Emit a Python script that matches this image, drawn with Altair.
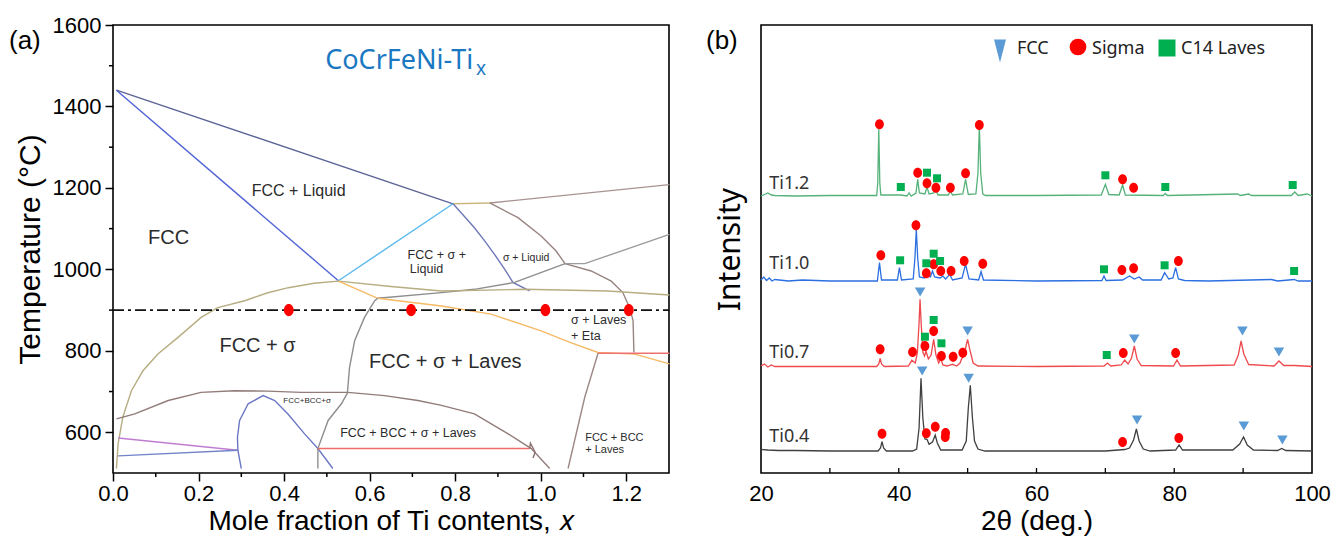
import altair as alt
import pandas as pd

# ======================= Panel (a): CoCrFeNi-Tix phase diagram =======================
# phase boundaries as (x, T[°C]) points
liquidus      = [(0.008, 1440), (0.795, 1161)]
solidus       = [(0.008, 1440), (0.527, 972)]
fcc_sig_liq   = [(0.527, 972), (0.795, 1161)]
tie_top       = [(0.795, 1161), (0.881, 1163)]
liq_top       = [(0.881, 1163), (1.301, 1208)]
sig_liq_left  = [(0.795, 1161), (0.814, 1139), (0.845, 1102), (0.869, 1070), (0.892, 1037),
                 (0.916, 1000), (0.935, 968), (0.974, 947)]
sig_liq_right = [(0.881, 1163), (0.947, 1127), (1.001, 1082), (1.036, 1045), (1.057, 1014),
                 (1.118, 996), (1.165, 971), (1.192, 943), (1.208, 906), (1.216, 874), (1.218, 796)]
gray_right    = [(1.057, 1014), (1.103, 1014), (1.301, 1086)]
gray_mid      = [(0.619, 929), (0.768, 943), (0.845, 951), (0.939, 968), (1.057, 1014)]
fcc_solvus    = [(0.008, 511), (0.012, 572), (0.023, 637), (0.043, 702), (0.070, 751), (0.105, 792),
                 (0.152, 833), (0.206, 882), (0.245, 906), (0.308, 923), (0.36, 942), (0.41, 955),
                 (0.47, 966), (0.527, 971), (0.65, 958), (0.768, 947), (0.962, 951), (1.157, 947),
                 (1.301, 937)]
orange_line   = [(0.527, 971), (0.619, 929), (0.768, 910), (0.884, 890), (1.001, 849), (1.07, 820),
                 (1.134, 796), (1.22, 792), (1.301, 768)]
red_right     = [(1.134, 794), (1.301, 794)]
fbl_left      = [(1.134, 794), (1.103, 686), (1.064, 511)]
dome          = [(0.008, 633), (0.051, 645), (0.129, 678), (0.206, 698), (0.284, 702), (0.362, 701),
                 (0.44, 698), (0.549, 698), (0.635, 690), (0.713, 678), (0.768, 666), (0.845, 645),
                 (0.924, 596), (0.978, 560), (1.021, 511)]
purple_low    = [(0.012, 586), (0.292, 556)]
blue_low      = [(0.012, 542), (0.292, 556)]
bcc_dome      = [(0.300, 511), (0.292, 556), (0.291, 588), (0.296, 629), (0.316, 670), (0.351, 690),
                 (0.378, 678), (0.409, 645), (0.448, 596), (0.479, 560), (0.514, 511)]
laves_bound   = [(0.479, 511), (0.479, 560), (0.503, 629), (0.534, 670), (0.548, 696), (0.553, 759),
                 (0.565, 825), (0.588, 882), (0.612, 923), (0.619, 929)]
red_low       = [(0.479, 560), (0.974, 560)]
zigzag        = [(0.974, 560), (0.976, 573), (0.987, 551), (0.982, 537)]

line_colors = {
    "liquidus": "#5d6497", "solidus": "#5063d6", "fcc_sig_liq": "#58b9f0", "tie_top": "#cdb77c",
    "liq_top": "#a89392", "sig_liq_left": "#6e78b8", "sig_liq_right": "#988480",
    "gray_right": "#9c9c9c", "gray_mid": "#8d8d8d", "fcc_solvus": "#b7ad82",
    "orange_line": "#f6b964", "red_right": "#ef7272", "fbl_left": "#9c8884", "dome": "#917c7a",
    "purple_low": "#c07dd0", "blue_low": "#7383c8", "bcc_dome": "#6b77c4",
    "laves_bound": "#8e8e8e", "red_low": "#ef6c6c", "zigzag": "#8c7070",
}
phase_lines = {
    "liquidus": liquidus, "solidus": solidus, "fcc_sig_liq": fcc_sig_liq, "tie_top": tie_top,
    "liq_top": liq_top, "sig_liq_left": sig_liq_left, "sig_liq_right": sig_liq_right,
    "gray_right": gray_right, "gray_mid": gray_mid, "fcc_solvus": fcc_solvus,
    "orange_line": orange_line, "red_right": red_right, "fbl_left": fbl_left, "dome": dome,
    "purple_low": purple_low, "blue_low": blue_low, "bcc_dome": bcc_dome,
    "laves_bound": laves_bound, "red_low": red_low, "zigzag": zigzag,
}

ref_T = 900
ref_x = [0.0, 1.3]
sample_x = [0.411, 0.697, 1.011, 1.206]

x_ticks_a = [0.0, 0.2, 0.4, 0.6, 0.8, 1.0, 1.2]
x_minor_a = [0.1, 0.3, 0.5, 0.7, 0.9, 1.1]
y_ticks_a = [600, 800, 1000, 1200, 1400, 1600]
y_minor_a = [700, 900, 1100, 1300, 1500]

# region labels (text, x, T)
labels_big   = [("FCC + σ", 0.338, 812), ("FCC + σ + Laves", 0.777, 772), ("FCC", 0.130, 1078)]
labels_liq   = [("FCC + Liquid", 0.434, 1192)]
labels_mid   = [("FCC + σ +", 0.757, 1036), ("Liquid", 0.733, 1000),
                ("FCC + BCC + σ + Laves", 0.69, 597)]
labels_small = [("σ + Liquid", 0.966, 1029)]
labels_left  = [("σ + Laves", 1.071, 875), ("+ Eta", 1.071, 837)]
labels_left2 = [("FCC + BCC", 1.104, 587), ("+ Laves", 1.104, 556)]
labels_tiny  = [("FCC+BCC+σ", 0.454, 676)]
alloy_title  = [("CoCrFeNi-Ti", 0.842, 1491)]
alloy_sub    = [("x", 0.849, 1478)]

# ======================= Panel (b): XRD patterns =======================
xrd_ti04 = [(20.0, 23.5), (21.0, 23), (22.5, 22.5), (25, 22.5), (30, 22), (35, 22), (37.0, 22),
            (37.35, 25), (37.57, 31.3), (37.8, 25), (38.2, 22), (42.0, 22), (42.6, 24), (42.95, 45),
            (43.23, 94.7), (43.5, 55), (43.8, 34), (44.1, 33.7), (44.4, 28.7), (44.9, 31), (45.3, 38),
            (45.6, 30), (46.1, 23), (49.2, 23), (49.8, 32), (50.1, 65), (50.39, 87.7), (50.7, 55),
            (51.0, 32), (51.5, 24), (52.5, 22), (60, 22), (70, 22), (72.8, 23.5), (73.5, 25),
            (74.1, 33), (74.5, 44), (74.9, 32), (75.5, 24), (76.5, 22), (80.2, 23), (80.7, 28),
            (81.2, 23), (88.5, 23), (89.5, 29), (90.06, 36), (90.6, 28), (91.5, 23), (95.0, 22.5),
            (95.6, 24.5), (96.2, 22.5), (100, 22)]
xrd_ti07 = [(20, 107), (20.5, 109), (21, 106), (21.5, 108), (22, 106.5), (25, 106.5), (30, 106.5),
            (36.8, 106.5), (37.1, 109), (37.3, 114.7), (37.5, 109), (37.9, 106.5), (41.4, 107),
            (41.9, 112.7), (42.4, 110), (42.7, 120), (42.95, 150), (43.09, 173.7), (43.25, 150),
            (43.5, 121), (43.75, 117), (43.96, 122), (44.3, 114), (44.7, 118), (45.07, 133.7),
            (45.4, 118), (45.8, 110), (46.1, 114.7), (46.4, 108), (47.0, 107), (47.8, 108.7),
            (48.4, 107), (48.9, 110), (49.1, 113.7), (49.5, 118), (49.8, 128), (50.0, 133.7),
            (50.3, 124), (50.8, 110), (51.5, 107), (60, 106.5), (69.8, 107), (70.3, 110), (70.8, 107),
            (72.3, 108), (72.8, 113), (73.3, 109), (73.8, 115), (74.2, 127), (74.6, 114), (75.2, 107.5),
            (79.9, 107), (80.4, 113), (80.9, 107), (88.7, 108), (89.3, 118), (89.7, 132), (90.1, 119),
            (90.8, 108.5), (94.5, 107), (95.2, 112), (95.9, 107.5), (97.5, 107.5), (100, 106.5)]
xrd_ti10 = [(20, 193), (20.4, 196), (20.8, 192.5), (21.2, 195), (21.6, 192), (22, 193.5), (24, 192),
            (26, 193), (30, 192), (36.9, 192), (37.2, 210.3), (37.5, 193), (39.8, 193), (40.1, 205.3),
            (40.4, 193), (42.1, 194), (42.35, 215), (42.55, 243.7), (42.75, 215), (43.0, 196),
            (43.7, 195), (44.2, 197), (44.6, 196), (44.9, 202), (45.2, 196), (46.0, 195), (46.4, 197),
            (46.8, 194), (47.4, 198.7), (47.8, 193), (49.2, 195), (49.7, 208.7), (50.2, 194),
            (51.6, 193), (51.95, 201.3), (52.3, 193), (60, 192), (69.5, 192.5), (69.8, 197),
            (70.1, 192.5), (72.5, 193), (73.5, 197), (74.2, 194), (74.9, 196), (75.4, 193), (78.1, 193),
            (78.6, 200.3), (79.2, 194), (79.8, 195), (80.2, 205.3), (80.6, 194), (81.5, 192.5),
            (85, 192), (94.1, 193.5), (95, 192), (97.4, 193.5), (98, 192), (100, 192)]
xrd_ti12 = [(20, 277), (20.5, 278.5), (21.0, 280), (21.5, 278), (22, 277.5), (25, 277), (30, 277.5),
            (36.8, 277.5), (36.95, 290), (37.1, 343.7), (37.25, 290), (37.4, 278), (40.3, 278),
            (41.2, 277), (41.5, 280), (41.8, 277), (42.5, 280), (42.75, 293.7), (43.0, 280), (43.8, 279),
            (44.1, 286), (44.4, 279), (45.1, 280), (45.4, 283), (45.7, 278), (47.2, 278), (47.5, 282),
            (47.8, 278), (49.3, 279), (49.7, 293.7), (50.1, 278.5), (51.2, 279), (51.5, 300),
            (51.7, 347), (51.9, 300), (52.2, 279), (52.6, 277.5), (60, 277.5), (69.4, 278), (70.0, 288.7),
            (70.5, 278.5), (72.0, 278), (72.5, 288), (72.9, 278), (78.4, 277.5), (78.7, 279.5),
            (79.0, 277.5), (89.2, 279), (89.6, 277.5), (90.8, 279), (91.2, 277.5), (97.0, 277.5),
            (97.5, 281), (98.0, 277.5), (99.3, 279), (100, 277)]
samples = ["Ti1.2", "Ti1.0", "Ti0.7", "Ti0.4"]
sample_colors = ["#55b27a", "#2b6fe0", "#ee4a4e", "#404040"]
sample_label_I = [289, 209, 120, 36]
sample_label_tt = 21.2

fcc_pts = [(43.4, 102), (50.15, 94.7), (74.6, 53), (90.1, 47), (95.7, 33),
           (43.1, 181), (50.0, 142), (74.2, 134), (89.9, 142), (95.2, 121)]
sigma_pts = [(37.57, 39.3), (44.0, 39.7), (45.3, 46.3), (46.75, 36), (46.8, 40), (72.5, 31), (80.66, 35),
             (37.3, 123.7), (42.0, 121), (43.8, 127), (45.07, 142), (46.2, 117), (47.9, 116.3),
             (49.3, 120.3), (72.6, 120), (80.2, 120),
             (37.4, 217.7), (42.5, 247.7), (44.0, 199.7), (45.07, 208.7), (46.1, 202), (47.6, 202),
             (49.5, 212), (52.2, 209.3), (72.4, 203), (74.1, 204.7), (80.6, 212),
             (37.2, 348.7), (42.75, 300.3), (44.1, 289.7), (45.4, 285.3), (47.5, 285.3), (49.7, 299.7),
             (51.7, 348), (72.5, 293.7), (74.1, 285.3)]
laves_pts = [(43.8, 136.3), (45.07, 153), (46.2, 129.7), (70.2, 118),
             (40.2, 212.7), (44.0, 209.7), (45.07, 219.3), (46.0, 212), (69.8, 203.7), (78.6, 207.7),
             (97.4, 202),
             (40.3, 286), (44.1, 300.3), (45.56, 294.7), (70.0, 297.7), (78.7, 286), (97.2, 288)]
phase_names = ["FCC", "Sigma", "C14 Laves"]
x_ticks_b = [20, 40, 60, 80, 100]
x_inner_b = [30, 40, 50, 60, 70, 80, 90]

# ======================= styling =======================
ARIAL = "Liberation Sans, Arial, sans-serif"
NOTO = "Noto Sans, sans-serif"
W_A, W_B, H = 556, 551, 448
TRI_DOWN = "M-1,-0.87L1,-0.87L0,0.87Z"
TRI_LEG = "M-0.52,-1L0.52,-1L0,1Z"
ELLIPSE = "M0,-1A0.88,1 0 1 1 0,1A0.88,1 0 1 1 0,-1Z"
ELLIPSE_A = "M0,-1A0.8,1 0 1 1 0,1A0.8,1 0 1 1 0,-1Z"

ax_xa = alt.Axis(values=x_ticks_a, format=".1f", title="Mole fraction of Ti contents, 𝑥",
                 titleFont=ARIAL, titleFontSize=28, titleFontWeight="normal", titleColor="black",
                 labelFont=ARIAL, labelFontSize=22, labelColor="black", labelPadding=2,
                 labelFlush=False, labelOverlap=False, tickSize=8, tickWidth=1.5, tickColor="black",
                 titlePadding=3, domain=False, grid=False)
ax_ya = alt.Axis(values=y_ticks_a, format="d", title="Temperature (°C)",
                 titleFont=ARIAL, titleFontSize=30, titleFontWeight="normal", titleColor="black",
                 labelFont=ARIAL, labelFontSize=22, labelColor="black", labelPadding=4,
                 labelFlush=False, labelOverlap=False, tickSize=8, tickWidth=1.5, tickColor="black",
                 titlePadding=7, domain=False, grid=False)
sx_a = alt.Scale(domain=[0, 1.3], nice=False, zero=False)
sy_a = alt.Scale(domain=[500, 1600], nice=False, zero=False)


def XA(f="x"):
    return alt.X(f"{f}:Q", scale=sx_a, axis=ax_xa)


def YA(f="T"):
    return alt.Y(f"{f}:Q", scale=sy_a, axis=ax_ya)


rows = []
for name, pts in phase_lines.items():
    for i, (x, T) in enumerate(pts):
        rows.append({"seg": name, "i": i, "x": x, "T": T})
df_lines = pd.DataFrame(rows)
names = list(phase_lines.keys())

lines_a = alt.Chart(df_lines).mark_line(strokeWidth=1.4).encode(
    x=XA(), y=YA(),
    color=alt.Color("seg:N", scale=alt.Scale(domain=names, range=[line_colors[n] for n in names]),
                    legend=None),
    order="i:Q")

df_ref = pd.DataFrame({"x": ref_x, "T": [ref_T] * len(ref_x)})
ref_line = alt.Chart(df_ref).mark_line(color="#111111", strokeWidth=1.6,
                                       strokeDash=[11, 4, 3, 4]).encode(x=XA(), y=YA())

df_dots = pd.DataFrame({"x": sample_x, "T": [ref_T] * len(sample_x)})
dots = alt.Chart(df_dots).mark_point(shape=ELLIPSE_A, filled=True, color="#ff0000", opacity=1,
                                     size=150, strokeWidth=0).encode(x=XA(), y=YA())


def text_layer(items, size, align="center", color="#2b2b2b", font=ARIAL, baseline="middle"):
    df = pd.DataFrame(items, columns=["text", "x", "T"])
    return alt.Chart(df).mark_text(fontSize=size, align=align, baseline=baseline, color=color,
                                   font=font).encode(x=XA(), y=YA(), text="text:N")


t_big = text_layer(labels_big, 20)
t_liq = text_layer(labels_liq, 16)
t_mid = text_layer(labels_mid, 12.5)
t_small = text_layer(labels_small, 10.5)
t_left = text_layer(labels_left, 12.5, align="left")
t_left2 = text_layer(labels_left2, 11, align="left")
t_tiny = text_layer(labels_tiny, 8)
t_title = text_layer(alloy_title, 27, align="right", color="#1a78c2", font=NOTO, baseline="alphabetic")
t_sub = text_layer(alloy_sub, 19, align="left", color="#1a78c2", font=NOTO, baseline="alphabetic")

df_xminor = pd.DataFrame({"x": x_minor_a})
minor_x = alt.Chart(df_xminor).mark_rule(color="black", strokeWidth=1.5).encode(
    x=XA(), y=alt.value(H), y2=alt.value(H + 4))
df_yminor = pd.DataFrame({"T": y_minor_a})
minor_y = alt.Chart(df_yminor).mark_rule(color="black", strokeWidth=1.5).encode(
    y=YA(), x=alt.value(0), x2=alt.value(-4))

lab_a = alt.Chart(pd.DataFrame({"t": ["(a)"]})).mark_text(
    fontSize=26, font=ARIAL, align="left", baseline="middle", color="black").encode(
    x=alt.value(-104), y=alt.value(16), text="t:N")

panel_a = alt.layer(lines_a, ref_line, dots, t_big, t_liq, t_mid, t_small, t_left, t_left2, t_tiny,
                    t_title, t_sub, minor_x, minor_y, lab_a).properties(width=W_A, height=H)

# ---------------- panel (b) ----------------
ax_xb = alt.Axis(values=x_ticks_b, format="d", title="2θ (deg.)",
                 titleFont=ARIAL, titleFontSize=28, titleFontWeight="normal", titleColor="black",
                 labelFont=ARIAL, labelFontSize=22, labelColor="black", labelPadding=2,
                 labelFlush=False, labelOverlap=False, tickSize=8, tickOpacity=0,
                 titlePadding=3, domain=False, grid=False)
ax_yb = alt.Axis(title="Intensity", labels=False, ticks=False, domain=False, grid=False,
                 titleFont=NOTO, titleFontSize=30, titleFontWeight="normal", titleColor="black",
                 titlePadding=16)
sx_b = alt.Scale(domain=[20, 100], nice=False, zero=False)
sy_b = alt.Scale(domain=[0, H], nice=False, zero=False)


def XB(f="tt"):
    return alt.X(f"{f}:Q", scale=sx_b, axis=ax_xb)


def YB(f="I"):
    return alt.Y(f"{f}:Q", scale=sy_b, axis=ax_yb)


rows = []
for s, pts in zip(samples, [xrd_ti12, xrd_ti10, xrd_ti07, xrd_ti04]):
    for i, (tt, I) in enumerate(pts):
        rows.append({"sample": s, "i": i, "tt": tt, "I": I})
df_xrd = pd.DataFrame(rows)

xrd_lines = alt.Chart(df_xrd).mark_line(strokeWidth=1.3).encode(
    x=XB(), y=YB(),
    stroke=alt.Stroke("sample:N", scale=alt.Scale(domain=samples, range=sample_colors), legend=None),
    order="i:Q")


def marker_layer(pts, shape, color, size):
    df = pd.DataFrame(pts, columns=["tt", "I"])
    return alt.Chart(df).mark_point(shape=shape, filled=True, color=color, opacity=1, size=size,
                                    strokeWidth=0).encode(x=XB(), y=YB())


m_fcc = marker_layer(fcc_pts, TRI_DOWN, "#5b9bd5", 110)
m_sig = marker_layer(sigma_pts, ELLIPSE, "#ff0000", 100)
m_lav = marker_layer(laves_pts, "square", "#00b050", 64)

df_slab = pd.DataFrame({"text": samples, "I": sample_label_I, "tt": [sample_label_tt] * len(samples)})
s_labels = alt.Chart(df_slab).mark_text(fontSize=18, font=NOTO, align="left", baseline="middle",
                                        color="#333333").encode(x=XB(), y=YB(), text="text:N")

df_inner = pd.DataFrame({"tt": x_inner_b})
inner_ticks = alt.Chart(df_inner).mark_rule(color="black", strokeWidth=1.3).encode(
    x=XB(), y=alt.value(H), y2=alt.value(H - 5))

# legend (manual)
leg_df = pd.DataFrame({"t": phase_names})
leg_tri = alt.Chart(leg_df.iloc[[0]]).mark_point(shape=TRI_LEG, filled=True, color="#5b9bd5",
                                                  opacity=1, size=529, strokeWidth=0).encode(
    x=alt.value(239), y=alt.value(26))
leg_cir = alt.Chart(leg_df.iloc[[1]]).mark_point(shape="circle", filled=True, color="#ff0000",
                                                  opacity=1, size=279, strokeWidth=0).encode(
    x=alt.value(317), y=alt.value(22))
leg_sq = alt.Chart(leg_df.iloc[[2]]).mark_point(shape="square", filled=True, color="#00b050",
                                                 opacity=1, size=289, strokeWidth=0).encode(
    x=alt.value(406), y=alt.value(23))
leg_t1 = alt.Chart(leg_df.iloc[[0]]).mark_text(fontSize=18, font=NOTO, align="left",
                                                baseline="alphabetic", color="#222").encode(
    x=alt.value(256), y=alt.value(29), text="t:N")
leg_t2 = alt.Chart(leg_df.iloc[[1]]).mark_text(fontSize=18, font=NOTO, align="left",
                                                baseline="alphabetic", color="#222").encode(
    x=alt.value(331), y=alt.value(29), text="t:N")
leg_t3 = alt.Chart(leg_df.iloc[[2]]).mark_text(fontSize=18, font=NOTO, align="left",
                                                baseline="alphabetic", color="#222").encode(
    x=alt.value(420), y=alt.value(29), text="t:N")

lab_b = alt.Chart(pd.DataFrame({"t": ["(b)"]})).mark_text(
    fontSize=26, font=ARIAL, align="left", baseline="middle", color="black").encode(
    x=alt.value(-55), y=alt.value(16), text="t:N")

panel_b = alt.layer(xrd_lines, m_fcc, m_sig, m_lav, s_labels, inner_ticks,
                    leg_tri, leg_cir, leg_sq, leg_t1, leg_t2, leg_t3, lab_b).properties(
    width=W_B, height=H)

chart = alt.hconcat(panel_a, panel_b, spacing=92, bounds="flush").properties(
    padding={"left": 0, "top": 5, "right": 0, "bottom": 0},
    background="white",
).configure_view(stroke="black", strokeWidth=1.6)

chart.save("out.html", embed_options={"renderer": "svg", "actions": False})
